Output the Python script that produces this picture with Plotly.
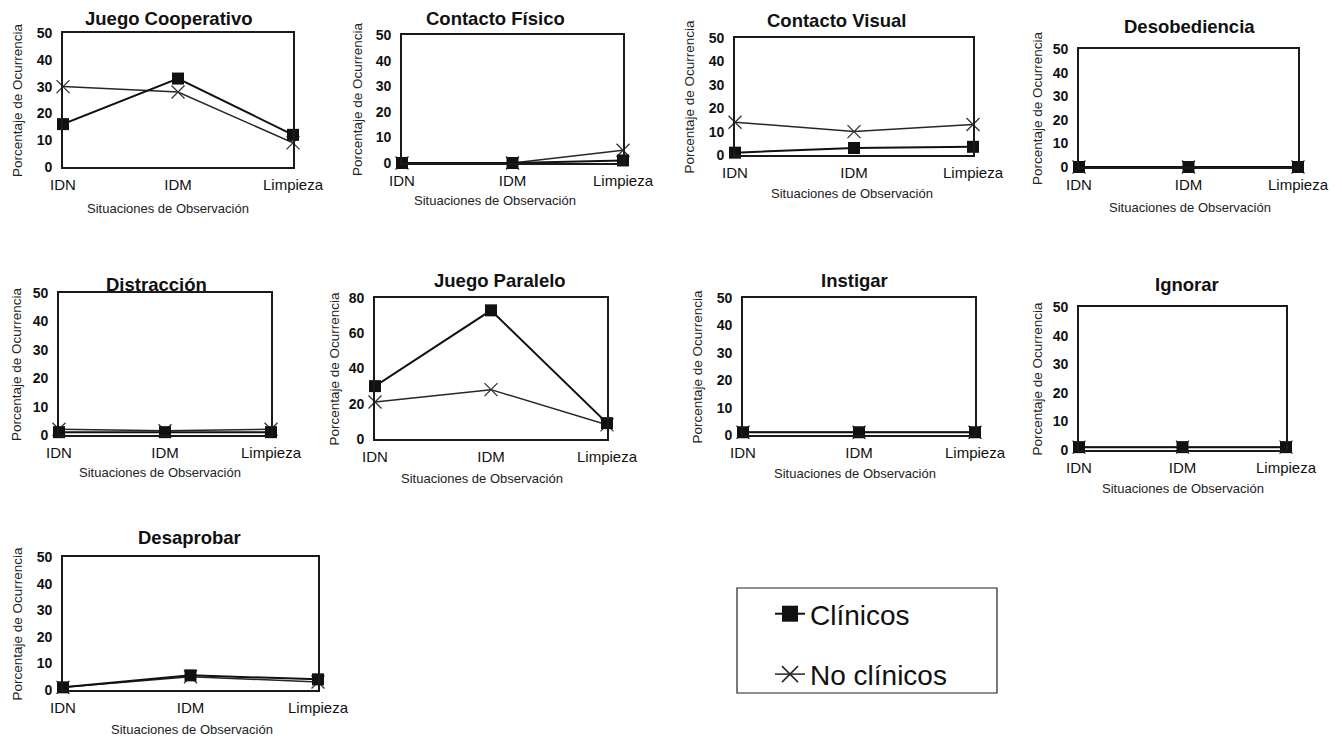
import plotly.graph_objects as go

# page is offset by the default 8px body margin; figure is sized to fit the window
OFF = 8
W, H = 1342 - OFF, 737 - OFF

categories = ["IDN", "IDM", "Limpieza"]
panel_titles = ["Juego Cooperativo", "Contacto Físico", "Contacto Visual", "Desobediencia",
                "Distracción", "Juego Paralelo", "Instigar", "Ignorar", "Desaprobar"]
series_names = ["Clínicos", "No clínicos"]
y_title = "Porcentaje de Ocurrencia"
x_title = "Situaciones de Observación"

clin_juego_coop = [16, 33, 12]
noclin_juego_coop = [30, 28, 9]
clin_contacto_fisico = [0, 0, 1]
noclin_contacto_fisico = [0, 0, 5]
clin_contacto_visual = [1, 3, 3.5]
noclin_contacto_visual = [14, 10, 13]
clin_desobediencia = [0, 0, 0]
noclin_desobediencia = [0, 0, 0]
clin_distraccion = [1, 1, 1]
noclin_distraccion = [2, 1.5, 2]
clin_juego_paralelo = [30, 73, 9]
noclin_juego_paralelo = [21, 28, 8]
clin_instigar = [1, 1, 1]
noclin_instigar = [1, 1, 1]
clin_ignorar = [1, 1, 1]
noclin_ignorar = [1, 1, 1]
clin_desaprobar = [1, 5.5, 4]
noclin_desaprobar = [1, 5, 3]

clin_all = [clin_juego_coop, clin_contacto_fisico, clin_contacto_visual, clin_desobediencia,
            clin_distraccion, clin_juego_paralelo, clin_instigar, clin_ignorar, clin_desaprobar]
noclin_all = [noclin_juego_coop, noclin_contacto_fisico, noclin_contacto_visual, noclin_desobediencia,
              noclin_distraccion, noclin_juego_paralelo, noclin_instigar, noclin_ignorar, noclin_desaprobar]
y_max = [50, 50, 50, 50, 50, 80, 50, 50, 50]
y_step = [10, 10, 10, 10, 10, 20, 10, 10, 10]

# layout in page pixels (x0, x1, ytop, ybottom)
boxes = [(63, 293, 33, 167), (402, 623, 35, 163), (735, 973, 38, 155), (1079, 1298, 49, 167),
         (59, 271, 293, 435), (375, 607, 298, 439), (743, 975, 298, 435), (1079, 1286, 307, 450),
         (63, 318, 557, 690)]
title_pos = [(169, 18), (495, 19), (836, 21), (1189, 26), (156, 284), (500, 280), (854, 281),
             (1187, 284), (189, 537)]
xtitle_pos = [(168, 208), (495, 200), (852, 193), (1190, 207), (160, 472), (482, 478), (855, 473),
              (1183, 488), (192, 729)]
ytitle_x = [17, 357, 689, 1037, 17, 334, 697, 1037, 17]


def px(x):
    return (x - OFF) / W


def py(y):
    return 1 - (y - OFF) / H


FONT = "Liberation Sans, Arial, sans-serif"
fig = go.Figure()
layout = dict()
annotations = []

for i in range(9):
    n = i + 1
    xa = "x" if n == 1 else f"x{n}"
    ya = "y" if n == 1 else f"y{n}"
    x0, x1, yt, yb = boxes[i]
    fig.add_trace(go.Scatter(
        x=categories, y=noclin_all[i], xaxis=xa, yaxis=ya, mode="lines+markers",
        line=dict(color="#262626", width=1.5), showlegend=False, cliponaxis=False,
        marker=dict(symbol="x-thin", size=13, line=dict(color="#333333", width=1.3)),
        name=series_names[1]))
    fig.add_trace(go.Scatter(
        x=categories, y=clin_all[i], xaxis=xa, yaxis=ya, mode="lines+markers",
        line=dict(color="#111111", width=2), showlegend=False, cliponaxis=False,
        marker=dict(symbol="square", size=12, color="#111111"),
        name=series_names[0]))
    layout["xaxis" if n == 1 else f"xaxis{n}"] = dict(
        domain=[px(x0), px(x1)], anchor=ya, type="category", range=[0, 2], automargin=False,
        showline=True, mirror=True, linecolor="#1a1a1a", linewidth=1.6,
        showgrid=False, zeroline=False, ticks="", ticklabelstandoff=3,
        tickfont=dict(size=15, color="#111111", family=FONT))
    layout["yaxis" if n == 1 else f"yaxis{n}"] = dict(
        domain=[py(yb), py(yt)], anchor=xa, range=[0, y_max[i]], dtick=y_step[i],
        tick0=0, automargin=False, showline=True, mirror=True, linecolor="#1a1a1a", linewidth=1.6,
        showgrid=False, zeroline=False, ticks="", ticklabelstandoff=6,
        tickfont=dict(size=14, color="#111111", family=FONT, weight="bold"))
    tx, ty = title_pos[i]
    annotations.append(dict(text=f"<b>{panel_titles[i]}</b>", x=px(tx), y=py(ty),
                            xref="paper", yref="paper", showarrow=False,
                            xanchor="center", yanchor="middle",
                            font=dict(size=18.5, color="#111111", family=FONT)))
    qx, qy = xtitle_pos[i]
    annotations.append(dict(text=x_title, x=px(qx), y=py(qy), xref="paper", yref="paper",
                            showarrow=False, xanchor="center", yanchor="middle",
                            font=dict(size=13, color="#222222", family=FONT)))
    annotations.append(dict(text=y_title, x=px(ytitle_x[i]), y=py((yt + yb) / 2),
                            xref="paper", yref="paper", showarrow=False, textangle=-90,
                            xanchor="center", yanchor="middle",
                            font=dict(size=13.5, color="#222222", family=FONT)))

# legend entries
fig.add_trace(go.Scatter(x=[None], y=[None], mode="lines+markers", name=series_names[0],
                         legendgroup="a", line=dict(color="#111111", width=2),
                         marker=dict(symbol="square", size=16, color="#111111")))
fig.add_trace(go.Scatter(x=[None], y=[None], mode="lines+markers", name=series_names[1],
                         legendgroup="b", line=dict(color="#262626", width=1.5),
                         marker=dict(symbol="x-thin", size=16, line=dict(color="#222222", width=1.5))))

fig.update_layout(
    **layout,
    width=W, height=H,
    margin=dict(l=0, r=0, t=0, b=0, autoexpand=False),
    paper_bgcolor="white", plot_bgcolor="white",
    font=dict(family=FONT, color="#111111"),
    annotations=annotations,
    showlegend=True,
    legend=dict(x=px(770), y=py(589), xanchor="left", yanchor="top",
                font=dict(size=28, color="#111111", family=FONT),
                bgcolor="rgba(0,0,0,0)", borderwidth=0, tracegroupgap=21,
                traceorder="grouped"),
    shapes=[dict(type="rect", xref="paper", yref="paper", x0=px(737), x1=px(997),
                 y0=py(693), y1=py(588), line=dict(color="#222222", width=1.2))],
)

fig.write_html("out.html")
